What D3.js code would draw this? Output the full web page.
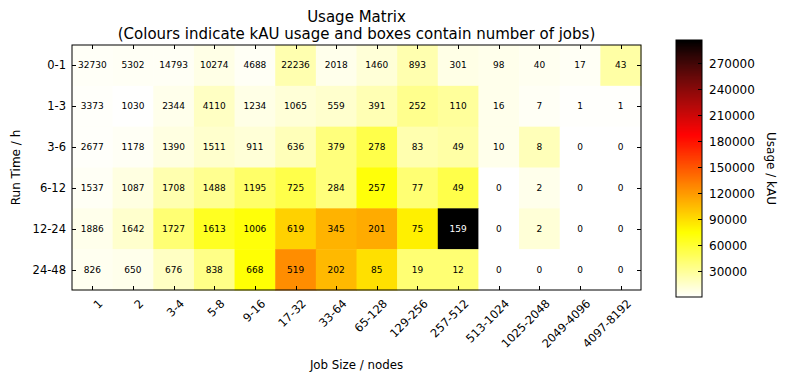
<!DOCTYPE html>
<html><head><meta charset="utf-8">
<script src="https://cdn.jsdelivr.net/npm/d3@7"></script>
<style>body{margin:0;background:#fff;}svg{display:block;font-family:"DejaVu Sans",sans-serif;}</style>
</head><body><svg id="c" width="786" height="383"></svg>
<script>
const jobSizes = ["1","2","3-4","5-8","9-16","17-32","33-64","65-128","129-256","257-512","513-1024","1025-2048","2049-4096","4097-8192"];
const runTimes = ["0-1","1-3","3-6","6-12","12-24","24-48"];
// number of jobs per row (run time) and column (job size)
const jobs_0_1  = [32730,5302,14793,10274,4688,22236,2018,1460,893,301,98,40,17,43];
const jobs_1_3  = [3373,1030,2344,4110,1234,1065,559,391,252,110,16,7,1,1];
const jobs_3_6  = [2677,1178,1390,1511,911,636,379,278,83,49,10,8,0,0];
const jobs_6_12 = [1537,1087,1708,1488,1195,725,284,257,77,49,0,2,0,0];
const jobs_12_24= [1886,1642,1727,1613,1006,619,345,201,75,159,0,2,0,0];
const jobs_24_48= [826,650,676,838,668,519,202,85,19,12,0,0,0,0];
// usage in kAU (estimated from colours)
const kau_0_1  = [2400,3000,3000,7400,3000,23700,5900,11800,23700,7400,5900,4400,3000,26600];
const kau_1_3  = [1500,300,5900,17800,7400,11800,14800,22000,33700,29600,5900,3000,900,900];
const kau_3_6  = [1500,3000,8900,14800,11800,20700,38500,53300,23700,26600,5900,20700,0,0];
const kau_6_12 = [3000,8900,23700,32600,44400,53300,38500,72500,41400,53300,0,5900,0,0];
const kau_12_24= [5900,14800,41400,65100,72500,95600,109000,112500,82000,296000,0,11800,0,0];
const kau_24_48= [4400,5900,17800,35500,74000,125800,106000,88800,41400,41400,0,0,0,0];
const colorTicks = [30000,60000,90000,120000,150000,180000,210000,240000,270000];
const usageMax = 296000;

const jobsRows = [jobs_0_1,jobs_1_3,jobs_3_6,jobs_6_12,jobs_12_24,jobs_24_48];
const kauRows = [kau_0_1,kau_1_3,kau_3_6,kau_6_12,kau_12_24,kau_24_48];
const cells = [];
runTimes.forEach((r,i)=>jobSizes.forEach((s,j)=>cells.push({r,s,jobs:jobsRows[i][j],kau:kauRows[i][j]})));

function hot(x){
  const c=v=>Math.max(0,Math.min(1,v));
  const r=c(x/0.365079), g=c((x-0.365079)/(0.746032-0.365079)), b=c((x-0.746032)/(1-0.746032));
  return d3.rgb(Math.round(r*255),Math.round(g*255),Math.round(b*255)).toString();
}
const norm = d3.scaleLinear().domain([0,usageMax]).range([0,1]).clamp(true);
const color = v => hot(1-norm(v));

const svg = d3.select("#c");
const L=72, R=641, T=45, B=290;
const x = d3.scaleBand().domain(jobSizes).range([L,R]);
const y = d3.scaleBand().domain(runTimes).range([T,B]);

svg.append("g").selectAll("rect").data(cells).join("rect")
  .attr("x",d=>x(d.s)).attr("y",d=>y(d.r))
  .attr("width",x.bandwidth()+0.5).attr("height",y.bandwidth()+0.5)
  .attr("fill",d=>color(d.kau));

svg.append("g").selectAll("text").data(cells).join("text")
  .attr("x",d=>x(d.s)+x.bandwidth()/2).attr("y",d=>y(d.r)+y.bandwidth()/2)
  .attr("text-anchor","middle").attr("dominant-baseline","central")
  .attr("font-size",9).attr("fill",d=>norm(d.kau)>0.6?"#fff":"#000")
  .text(d=>d.jobs);

// ticks (inward, both sides)
const tk=svg.append("g").attr("stroke","#000").attr("stroke-width",1);
jobSizes.forEach(s=>{
  const cx=Math.round(x(s)+x.bandwidth()/2)+0.5;
  tk.append("line").attr("x1",cx).attr("x2",cx).attr("y1",B).attr("y2",B-4);
  tk.append("line").attr("x1",cx).attr("x2",cx).attr("y1",T).attr("y2",T+4);
});
runTimes.forEach(r=>{
  const cy=Math.round(y(r)+y.bandwidth()/2)+0.5;
  tk.append("line").attr("x1",L).attr("x2",L+4).attr("y1",cy).attr("y2",cy);
  tk.append("line").attr("x1",R).attr("x2",R-4).attr("y1",cy).attr("y2",cy);
});
svg.append("rect").attr("x",L).attr("y",T).attr("width",R-L).attr("height",B-T)
  .attr("fill","none").attr("stroke","#000").attr("stroke-width",1);

// tick labels
svg.append("g").selectAll("text").data(runTimes).join("text")
  .attr("x",L-6).attr("y",d=>y(d)+y.bandwidth()/2).attr("text-anchor","end")
  .attr("dominant-baseline","central").attr("font-size",11.5).text(d=>d);
svg.append("g").selectAll("text").data(jobSizes).join("text")
  .attr("transform",d=>`translate(${x(d)+x.bandwidth()/2+5},${B+8}) rotate(-45)`)
  .attr("text-anchor","end").attr("dominant-baseline","hanging").attr("font-size",11.5).text(d=>d);

// titles
svg.append("text").attr("x",(L+R)/2).attr("y",22).attr("text-anchor","middle").attr("font-size",15).text("Usage Matrix");
svg.append("text").attr("x",(L+R)/2).attr("y",39).attr("text-anchor","middle").attr("font-size",15).text("(Colours indicate kAU usage and boxes contain number of jobs)");
svg.append("text").attr("x",(L+R)/2).attr("y",369).attr("text-anchor","middle").attr("font-size",11.8).text("Job Size / nodes");
svg.append("text").attr("transform",`translate(20,${(T+B)/2}) rotate(-90)`).attr("text-anchor","middle").attr("font-size",12).text("Run Time / h");

// colorbar
const cbL=676, cbR=702, cbT=40, cbB=297;
const cy = d3.scaleLinear().domain([0,usageMax]).range([cbB,cbT]);
const steps=d3.range(0,256);
svg.append("g").selectAll("rect").data(steps).join("rect")
  .attr("x",cbL).attr("width",cbR-cbL)
  .attr("y",i=>cy((i+1)/256*usageMax)).attr("height",i=>cy(i/256*usageMax)-cy((i+1)/256*usageMax)+0.6)
  .attr("fill",i=>color((i+0.5)/256*usageMax));
svg.append("rect").attr("x",cbL).attr("y",cbT).attr("width",cbR-cbL).attr("height",cbB-cbT)
  .attr("fill","none").attr("stroke","#000").attr("stroke-width",1);
const cbt=svg.append("g");
colorTicks.forEach(v=>{
  const yy=Math.round(cy(v))+0.5;
  cbt.append("line").attr("x1",cbR).attr("x2",cbR-4).attr("y1",yy).attr("y2",yy).attr("stroke","#000");
  cbt.append("text").attr("x",cbR+7).attr("y",yy).attr("dominant-baseline","central").attr("font-size",12).text(v);
});
svg.append("text").attr("transform",`translate(767,${(cbT+cbB)/2}) rotate(90)`).attr("text-anchor","middle").attr("font-size",12).text("Usage / kAU");
</script></body></html>
